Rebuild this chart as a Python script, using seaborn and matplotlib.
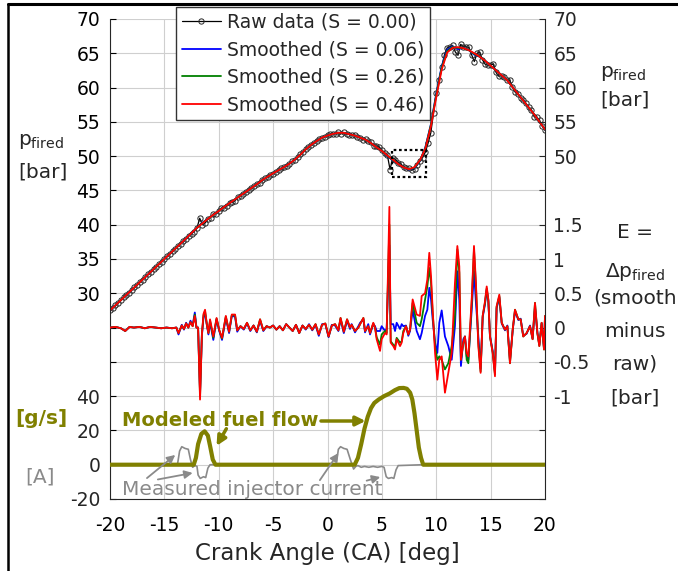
import numpy as np
import matplotlib
matplotlib.use("Agg")
import matplotlib.pyplot as plt
import seaborn as sns
from matplotlib.lines import Line2D
from matplotlib.patches import Rectangle

# ---------------- data ----------------
# raw pressure samples, crank angle -20..20 every 0.25 deg
ca_raw = np.linspace(-20, 20, 161)
p_raw = [
    27.5, 27.9, 28.25, 28.6, 29.0, 29.4, 29.8, 30.1, 30.5, 30.9,
    31.25, 31.6, 32.0, 32.4, 32.75, 33.1, 33.5, 33.9, 34.25, 34.6,
    35.0, 35.4, 35.75, 36.1, 36.5, 36.95, 37.2, 37.65, 37.95, 38.4,
    38.7, 39.0, 39.55, 40.95, 40.0, 40.25, 40.8, 41.05, 41.6, 41.6,
    42.05, 42.45, 42.5, 42.7, 43.2, 43.25, 43.5, 44.0, 44.25, 44.55,
    44.75, 45.1, 45.4, 45.6, 45.95, 46.1, 46.55, 46.75, 47.0, 47.25,
    47.45, 47.75, 47.95, 48.2, 48.45, 48.6, 48.9, 49.25, 49.45, 49.85,
    50.3, 50.55, 51.0, 51.3, 51.65, 51.95, 52.15, 52.55, 52.65, 52.8,
    53.05, 53.2, 53.2, 53.3, 53.45, 53.25, 53.45, 53.2, 53.15, 53.05,
    53.05, 52.85, 52.65, 52.4, 52.45, 52.15, 52.0, 51.55, 51.45, 51.35,
    50.9, 50.5, 50.2, 48.05, 49.75, 49.5, 49.05, 48.85, 48.45, 48.2,
    48.2, 47.95, 48.15, 48.7, 49.25, 49.8, 50.6, 51.9, 53.4, 56.35,
    59.2, 61.05, 63.0, 64.75, 65.8, 65.95, 66.15, 65.2, 64.7, 66.3,
    65.95, 65.95, 65.85, 64.8, 63.8, 65.0, 65.15, 64.05, 63.4, 63.25,
    63.35, 63.4, 62.2, 61.65, 61.75, 61.5, 61.1, 61.1, 60.15, 59.35,
    59.0, 58.5, 58.25, 57.7, 57.1, 56.75, 55.75, 55.65, 55.25, 54.4,
    53.75]

# smoothed pressure, every 0.5 deg
ca_s = np.linspace(-20, 20, 81)
p_s46 = [
    27.5, 28.25, 29.0, 29.75, 30.5, 31.25, 32.0, 32.75, 33.5, 34.25,
    35.0, 35.75, 36.5, 37.25, 38.0, 38.8, 39.55, 40.2, 40.85, 41.45,
    42.0, 42.6, 43.15, 43.7, 44.25, 44.8, 45.35, 45.9, 46.5, 47.0,
    47.5, 47.95, 48.4, 48.9, 49.5, 50.2, 51.0, 51.65, 52.2, 52.7,
    53.0, 53.25, 53.4, 53.4, 53.2, 53.0, 52.7, 52.4, 51.9, 51.3,
    50.75, 50.1, 49.5, 48.85, 48.35, 48.1, 48.4, 49.4, 51.1, 54.3,
    58.6, 62.6, 65.1, 65.8, 65.9, 65.75, 65.45, 65.0, 64.5, 63.9,
    63.2, 62.5, 61.8, 61.1, 60.1, 59.1, 58.1, 57.1, 56.1, 55.0,
    53.9]
p_s26 = [
    27.5, 28.25, 29.0, 29.75, 30.5, 31.25, 32.0, 32.75, 33.5, 34.25,
    35.0, 35.75, 36.5, 37.25, 38.0, 38.8, 39.55, 40.25, 40.85, 41.45,
    42.0, 42.6, 43.15, 43.7, 44.25, 44.8, 45.35, 45.9, 46.5, 47.0,
    47.5, 47.95, 48.4, 48.9, 49.5, 50.2, 51.0, 51.65, 52.2, 52.7,
    53.0, 53.25, 53.4, 53.4, 53.2, 53.0, 52.7, 52.4, 51.9, 51.3,
    50.75, 50.05, 49.45, 48.85, 48.35, 48.1, 48.35, 49.35, 51.2, 54.5,
    58.9, 62.9, 65.3, 65.9, 65.8, 65.75, 65.45, 64.9, 64.5, 63.9,
    63.2, 62.5, 61.8, 61.1, 60.1, 59.1, 58.1, 57.1, 56.1, 55.0,
    53.9]
p_s06 = [
    27.5, 28.25, 29.0, 29.75, 30.5, 31.25, 32.0, 32.75, 33.5, 34.25,
    35.0, 35.75, 36.5, 37.25, 38.0, 38.8, 39.55, 40.3, 40.85, 41.45,
    42.0, 42.6, 43.15, 43.7, 44.25, 44.8, 45.35, 45.9, 46.5, 47.0,
    47.5, 47.95, 48.4, 48.9, 49.5, 50.2, 51.0, 51.65, 52.2, 52.7,
    53.0, 53.25, 53.4, 53.4, 53.2, 53.0, 52.7, 52.4, 51.9, 51.3,
    50.75, 50.0, 49.4, 48.85, 48.35, 48.05, 48.3, 49.3, 51.3, 54.6,
    59.1, 63.1, 65.5, 66.0, 65.6, 65.8, 65.45, 64.8, 64.5, 63.9,
    63.2, 62.5, 61.8, 61.1, 60.1, 59.1, 58.1, 57.1, 56.1, 55.0,
    53.9]

# error E = smoothed - raw [bar]
ca_e = [
    -20.0, -19.5, -19.0, -18.6, -18.2, -17.8, -17.3, -16.8, -16.3, -15.8,
    -15.3, -14.8, -14.3, -13.9, -13.7, -13.4, -13.2, -13.0, -12.8, -12.6,
    -12.4, -12.2, -12.05, -11.9, -11.72, -11.55, -11.4, -11.26, -11.1, -10.95,
    -10.8, -10.5, -10.2, -9.95, -9.7, -9.35, -9.05, -8.8, -8.5, -8.3,
    -8.0, -7.7, -7.4, -7.1, -6.8, -6.5, -6.2, -5.9, -5.6, -5.3,
    -5.0, -4.7, -4.4, -4.1, -3.8, -3.5, -3.2, -2.9, -2.6, -2.3,
    -2.0, -1.7, -1.4, -1.1, -0.8, -0.5, -0.2, 0.1, 0.4, 0.7,
    1.0, 1.2, 1.5, 1.8, 2.07, 2.22, 2.53, 2.84, 3.0, 3.3,
    3.45, 3.75, 3.91, 4.21, 4.37, 4.52, 4.83, 4.98, 5.29, 5.44,
    5.69, 5.81, 6.05, 6.21, 6.36, 6.67, 6.82, 6.97, 7.22, 7.43,
    7.59, 7.83, 8.2, 8.5, 8.66, 8.97, 9.18, 9.36, 9.52, 9.67,
    9.89, 10.1, 10.28, 10.5, 10.8, 11.11, 11.42, 11.72, 11.94, 12.12,
    12.27, 12.49, 12.64, 12.8, 12.95, 13.26, 13.47, 13.65, 13.87, 14.08,
    14.27, 14.48, 14.64, 14.79, 14.94, 15.19, 15.4, 15.55, 15.8, 16.02,
    16.32, 16.54, 16.78, 17.03, 17.24, 17.55, 17.76, 18.0, 18.31, 18.62,
    18.86, 19.08, 19.3, 19.48, 19.69, 19.91, 20.0]
e_s46 = [
    0.0, 0.01, -0.01, -0.05, 0.01, 0.0, 0.01, -0.01, 0.01, 0.0,
    -0.01, 0.0, -0.01, 0.0, -0.08, 0.03, -0.02, 0.06, 0.0, 0.08,
    0.02, 0.17, 0.0, 0.0, -1.05, -0.1, 0.2, 0.26, 0.05, -0.08,
    0.12, -0.13, 0.14, -0.04, -0.15, 0.17, -0.06, 0.19, 0.19, -0.04,
    0.02, -0.02, 0.07, -0.04, 0.03, -0.06, 0.12, -0.04, 0.02, 0.0,
    0.03, -0.03, 0.02, -0.04, 0.05, 0.0, -0.05, 0.04, -0.08, 0.03,
    -0.02, 0.04, -0.03, 0.05, -0.1, 0.04, 0.06, -0.13, 0.03, 0.05,
    -0.04, 0.14, -0.06, 0.12, 0.0, 0.04, -0.05, 0.0, 0.05, 0.14,
    -0.05, 0.02, -0.08, 0.07, 0.0, -0.17, -0.34, -0.17, -0.08, -0.1,
    1.76, -0.22, -0.27, -0.32, -0.17, -0.27, -0.22, -0.08, 0.02, -0.1,
    -0.03, 0.41, 0.19, 0.17, 0.46, 0.5, 0.7, 1.09, 0.75, 0.26,
    -0.37, -0.76, -0.47, -0.42, -0.95, -0.66, -0.37, 0.65, 1.19, 0.89,
    -0.47, -0.22, -0.13, -0.37, -0.42, 0.41, 1.19, 0.65, -0.27, -0.66,
    0.17, 0.38, 0.6, 0.41, -0.13, -0.37, -0.71, 0.31, 0.48, 0.07,
    -0.03, 0.02, -0.52, -0.03, 0.26, 0.12, 0.12, -0.13, -0.08, 0.02,
    -0.17, 0.36, -0.08, -0.27, 0.07, -0.32, 0.17]
e_s26 = [
    0.0, 0.01, -0.01, -0.05, 0.01, 0.0, 0.01, -0.01, 0.01, 0.0,
    -0.01, 0.0, -0.01, 0.0, -0.08, 0.03, -0.02, 0.06, 0.0, 0.08,
    0.02, 0.19, 0.0, 0.0, -1.0, -0.1, 0.18, 0.24, 0.05, -0.08,
    0.1, -0.15, 0.13, -0.04, -0.16, 0.16, -0.06, 0.18, 0.18, -0.04,
    0.02, -0.02, 0.07, -0.04, 0.03, -0.06, 0.12, -0.04, 0.02, 0.0,
    0.03, -0.03, 0.02, -0.04, 0.05, 0.0, -0.05, 0.04, -0.08, 0.03,
    -0.02, 0.04, -0.03, 0.05, -0.1, 0.04, 0.06, -0.13, 0.03, 0.05,
    -0.04, 0.14, -0.06, 0.12, 0.0, 0.04, -0.05, 0.0, 0.05, 0.14,
    -0.05, 0.02, -0.08, 0.06, 0.0, -0.14, -0.25, -0.1, -0.05, -0.08,
    1.5, -0.2, -0.25, -0.28, -0.15, -0.22, -0.2, -0.05, 0.02, -0.1,
    -0.03, 0.36, 0.07, 0.02, 0.12, 0.41, 0.6, 0.87, 0.65, 0.21,
    -0.27, -0.47, -0.42, -0.47, -0.61, -0.52, -0.27, 0.17, 1.14, 0.8,
    -0.47, -0.22, -0.13, -0.47, -0.52, 0.36, 1.14, 0.6, -0.22, -0.64,
    0.17, 0.36, 0.57, 0.4, -0.13, -0.36, -0.68, 0.3, 0.46, 0.07,
    -0.03, 0.02, -0.52, -0.03, 0.26, 0.12, 0.12, -0.13, -0.08, 0.02,
    -0.17, 0.36, -0.08, -0.27, 0.07, -0.32, 0.17]
e_s06 = [
    0.0, 0.01, -0.01, -0.05, 0.01, 0.0, 0.01, -0.01, 0.01, 0.0,
    -0.01, 0.0, -0.01, 0.0, -0.1, 0.04, -0.03, 0.07, 0.0, 0.1,
    0.03, 0.22, 0.0, 0.0, -0.95, -0.12, 0.15, 0.2, 0.04, -0.1,
    0.08, -0.18, 0.12, -0.05, -0.18, 0.14, -0.08, 0.17, 0.16, -0.06,
    0.02, -0.03, 0.06, -0.05, 0.03, -0.07, 0.1, -0.05, 0.02, 0.0,
    0.03, -0.03, 0.02, -0.04, 0.05, 0.0, -0.05, 0.04, -0.08, 0.03,
    -0.03, 0.05, -0.04, 0.04, -0.12, 0.05, 0.05, -0.14, 0.04, 0.03,
    -0.05, 0.12, -0.08, 0.1, -0.02, 0.05, -0.07, 0.02, 0.07, 0.12,
    -0.07, 0.05, -0.1, 0.05, 0.02, -0.05, -0.05, 0.02, -0.05, -0.02,
    1.2, 0.05, 0.05, -0.05, 0.07, -0.02, 0.05, 0.02, 0.03, -0.12,
    -0.05, 0.26, -0.05, -0.17, -0.08, 0.17, 0.26, 0.58, 0.41, 0.12,
    -0.22, -0.37, 0.07, 0.25, -0.13, -0.27, -0.47, 0.02, 0.82, 0.41,
    -0.56, -0.17, -0.13, -0.42, -0.47, 0.26, 0.82, 0.36, -0.13, -0.6,
    0.15, 0.34, 0.55, 0.38, -0.12, -0.34, -0.65, 0.28, 0.44, 0.06,
    -0.04, 0.03, -0.48, -0.04, 0.24, 0.11, 0.13, -0.12, -0.09, 0.03,
    -0.16, 0.3, -0.07, -0.25, 0.06, -0.3, 0.15]

# modeled fuel flow [g/s]
ca_fuel = [-20, -12.3, -12.1, -11.9, -11.6, -11.3, -11.0, -10.8, -10.55, -10.3,
           2.5, 2.8, 3.1, 3.4, 3.7, 4.0, 4.3, 4.7, 5.2, 5.7,
           6.2, 6.6, 7.0, 7.3, 7.6, 7.8, 8.0, 8.2, 8.4, 8.6,
           8.8, 20]
fuel_flow = [0, 0, 4, 12, 18, 19.5, 17, 11, 3, 0,
             0, 4, 12, 21, 28, 33, 36, 38, 40, 41.5,
             43.5, 44.7, 44.8, 44.3, 42, 38, 30, 20, 10, 4,
             0, 0]

# measured injector current [A]
ca_cur = [-20, -13.8, -13.6, -13.4, -13.1, -12.8, -12.6, -12.4, -12.2, -12.0,
          -11.9, -11.7, -11.4, -11.2, -11.0, -10.8, 0.8, 1.0, 1.2, 1.5,
          1.8, 2.1, 2.4, 2.6, 2.8, 3.1, 3.4, 3.8, 4.2, 4.6,
          5.0, 5.2, 5.4, 5.6, 5.9, 6.1, 6.3, 6.5, 8.8, 20]
inj_cur = [0, 0, 8, 10.5, 9.5, 9, 3, -1.5, -0.5, -1,
           -6, -8, -7, -7.5, -2, 0, 0, 9, 10.5, 9.5,
           9, 3, -2.5, -1, -0.5, -1.5, -1, -1.5, -1, -1.5,
           -1, -1.5, -7, -8, -7.5, -8, -3, -0.5, 0, 0]

legend_labels = ["Raw data (S = 0.00)", "Smoothed (S = 0.06)",
                 "Smoothed (S = 0.26)", "Smoothed (S = 0.46)"]
x_ticks = [-20, -15, -10, -5, 0, 5, 10, 15, 20]
p_left_ticks = [30, 35, 40, 45, 50, 55, 60, 65, 70]
p_right_ticks = [50, 55, 60, 65, 70]
e_ticks = [-1, -0.5, 0, 0.5, 1, 1.5]
e_tick_labels = ["-1", "-0.5", "0", "0.5", "1", "1.5"]
fuel_ticks = [-20, 0, 20, 40]

# ---------------- style ----------------
sns.set_style("white")
plt.rcParams["font.family"] = ["DejaVu Sans"]
plt.rcParams["mathtext.fontset"] = "dejavusans"

OLIVE = "#808000"
GRAY = "#8a8a8a"
GRID = "#cfcfcf"
FS = 13.5

W, H = 678, 571
fig = plt.figure(figsize=(W / 100, H / 100), dpi=100)
L, R, T, B = 110, 545, 19, 499
rect = [L / W, 1 - B / H, (R - L) / W, (B - T) / H]
ax = fig.add_axes(rect)

# pressure panel
sns.lineplot(x=ca_raw, y=p_raw, ax=ax, color="black", lw=0.9, marker="o",
             markersize=3.8, markerfacecolor="none", markeredgecolor="#262626",
             markeredgewidth=0.7, label=legend_labels[0], legend=False,
             estimator=None)
sns.lineplot(x=ca_s, y=p_s06, ax=ax, color="#0000ff", lw=1.3,
             label=legend_labels[1], legend=False, estimator=None)
sns.lineplot(x=ca_s, y=p_s26, ax=ax, color="#008000", lw=1.3,
             label=legend_labels[2], legend=False, estimator=None)
sns.lineplot(x=ca_s, y=p_s46, ax=ax, color="#ff0000", lw=1.3,
             label=legend_labels[3], legend=False, estimator=None)
ax.add_patch(Rectangle((5.93, 47.0), 3.13, 3.9, fill=False, ls=(0, (1.2, 1.2)),
                       lw=1.6, ec="black", zorder=5))

ax.set_xlim(-20, 20)
ax.set_ylim(0, 70)
ax.set_xticks(x_ticks)
ax.set_xticklabels([str(v) for v in x_ticks])
yt = list(range(0, 71, 5))
ax.set_yticks(yt)
ax.set_yticklabels([str(v) if v in p_left_ticks else "" for v in yt])
ax.grid(True, color=GRID, lw=0.8)
ax.set_axisbelow(True)
ax.tick_params(axis="both", direction="in", length=4, width=0.8,
               labelsize=FS, colors="black")
ax.tick_params(axis="y", pad=7)
ax.tick_params(axis="x", pad=12)
for s in ["left", "bottom", "right"]:
    ax.spines[s].set_visible(True)
    ax.spines[s].set_color("#262626")
    ax.spines[s].set_linewidth(0.8)
ax.spines["top"].set_visible(False)
ax.set_xlabel("Crank Angle (CA) [deg]", fontsize=16.5, labelpad=5)
ax.set_ylabel("")

# right p labels
ax_r = ax.twinx()
ax_r.set_ylim(0, 70)
ax_r.set_yticks(yt)
ax_r.set_yticklabels([str(v) if v in p_right_ticks else "" for v in yt])
ax_r.tick_params(axis="y", direction="in", length=4, width=0.8,
                 labelsize=FS, pad=6)
for s in ax_r.spines.values():
    s.set_visible(False)

# error panel
ax_e = ax.twinx()
sns.lineplot(x=ca_e, y=e_s06, ax=ax_e, color="#0000ff", lw=1.3, legend=False,
             estimator=None)
sns.lineplot(x=ca_e, y=e_s26, ax=ax_e, color="#008000", lw=1.3, legend=False,
             estimator=None)
sns.lineplot(x=ca_e, y=e_s46, ax=ax_e, color="#ff0000", lw=1.3, legend=False,
             estimator=None)
ax_e.set_ylim(-2.5, 4.5)
ax_e.set_yticks(e_ticks)
ax_e.set_yticklabels(e_tick_labels)
ax_e.tick_params(axis="y", direction="in", length=0, labelsize=FS, pad=6)
ax_e.set_ylabel("")
for s in ax_e.spines.values():
    s.set_visible(False)

# fuel panel
ax_f = ax.twinx()
sns.lineplot(x=ca_cur, y=inj_cur, ax=ax_f, color=GRAY, lw=1.2, legend=False,
             estimator=None)
sns.lineplot(x=ca_fuel, y=fuel_flow, ax=ax_f, color=OLIVE, lw=3.0,
             legend=False, estimator=None)
ax_f.set_ylim(-20, 260)
ax_f.yaxis.tick_left()
ax_f.set_yticks(fuel_ticks)
ax_f.set_yticklabels([str(v) for v in fuel_ticks])
ax_f.tick_params(axis="y", direction="in", length=0, labelsize=FS, pad=7)
ax_f.set_ylabel("")
for s in ax_f.spines.values():
    s.set_visible(False)

ax_f.text(-18.9, 25.5, "Modeled fuel flow", color=OLIVE, fontsize=14,
          fontweight="bold", ha="left", va="center")
ax_f.annotate("", xy=(3.5, 25.5), xytext=(-0.6, 25.5),
              arrowprops=dict(arrowstyle="-|>", color=OLIVE, lw=2.5,
                              mutation_scale=14, shrinkA=0, shrinkB=0))
ax_f.annotate("", xy=(-10.2, 11), xytext=(-9.3, 21),
              arrowprops=dict(arrowstyle="-|>", color=OLIVE, lw=2.5,
                              mutation_scale=14, shrinkA=0, shrinkB=0))
ax_f.text(-18.9, -14.2, "Measured injector current", color=GRAY,
          fontsize=14.5, ha="left", va="center")
for tail, head in [((-16.6, -7.8), (-14.0, 5.7)),
                   ((-15.6, -8.6), (-12.4, -4.8)),
                   ((-0.7, -9.0), (1.0, 6.8)),
                   ((3.6, -9.3), (4.85, -7.2))]:
    ax_f.annotate("", xy=head, xytext=tail,
                  arrowprops=dict(arrowstyle="-|>", color=GRAY, lw=1.3,
                                  mutation_scale=12, shrinkA=0, shrinkB=0))

# legend
handles, labels = ax.get_legend_handles_labels()
fig.legend(handles, labels, loc="upper left",
           bbox_to_anchor=(176 / W, 1 - 7 / H), frameon=True, fancybox=False,
           edgecolor="#333333", framealpha=1, fontsize=FS, handlelength=2.1,
           handletextpad=0.3, borderpad=0.3, labelspacing=0.46,
           borderaxespad=0)

# outer axis titles
def ftext(x, y, s, **kw):
    fig.text(x / W, 1 - y / H, s, **kw)

ftext(18, 145, r"p$_{\mathrm{fired}}$", fontsize=14.5, va="baseline")
ftext(18, 177, "[bar]", fontsize=14.5, va="baseline")
ftext(600, 77, r"p$_{\mathrm{fired}}$", fontsize=14.5, va="baseline")
ftext(600, 106, "[bar]", fontsize=14.5, va="baseline")
for yy, s in [(238, "E ="), (277, r"$\Delta$p$_{\mathrm{fired}}$"),
              (304, "(smooth"), (337, "minus"), (370, "raw)"), (403, "[bar]")]:
    ftext(635, yy, s, fontsize=14.5, va="baseline", ha="center")
ftext(15, 419, "[g/s]", fontsize=14.5, color=OLIVE, fontweight="bold",
      va="center")
ftext(25, 477, "[A]", fontsize=14.5, color=GRAY, va="center")

# figure frame (left and top)
fig.add_artist(Line2D([7.5 / W, 7.5 / W], [0, 1 - 3.5 / H], color="black",
                      lw=1.8, transform=fig.transFigure))
fig.add_artist(Line2D([7.5 / W, 1], [1 - 3.5 / H, 1 - 3.5 / H],
                      color="black", lw=2.2, transform=fig.transFigure))

fig.savefig("out.png", dpi=100)
